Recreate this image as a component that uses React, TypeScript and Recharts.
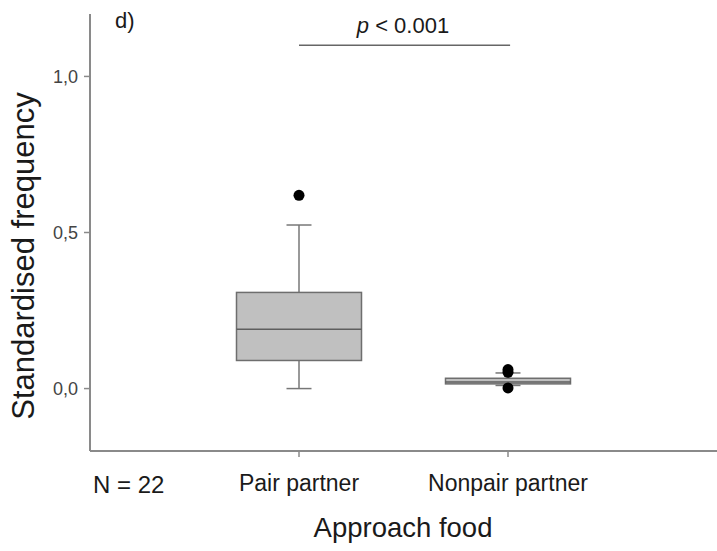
import React from "react";
import {
  ComposedChart,
  Bar,
  Scatter,
  XAxis,
  YAxis,
  ReferenceLine,
} from "recharts";

// box plot summary per group
const categories = ["Pair partner", "Nonpair partner"];
const positions = [1, 2];
const lowerWhisker = [0.0, 0.01];
const lowerQuartile = [0.09, 0.015];
const medians = [0.19, 0.021];
const upperQuartile = [0.308, 0.033];
const upperWhisker = [0.524, 0.05];

// outliers (group position, value)
const outlierGroups = [1, 2, 2, 2];
const outlierValues = [0.619, 0.061, 0.052, 0.002];

const yTicks = [0, 0.5, 1.0];
const sigStart = 1;
const sigEnd = 2.01;
const sigLevel = 1.1;

const font = "'Liberation Sans', Arial, Helvetica, sans-serif";
const axisGrey = "#8a8a8a";
const boxStroke = "#6e6e6e";
const whiskerStroke = "#777777";

const boxData = positions.map((x, i) => ({
  x,
  name: categories[i],
  whisker: [lowerWhisker[i], upperWhisker[i]],
  box: [lowerQuartile[i], upperQuartile[i]],
  q1: lowerQuartile[i],
  q3: upperQuartile[i],
  median: medians[i],
}));

const outlierData = outlierGroups.map((x, i) => ({ x, value: outlierValues[i] }));

const formatY = (v: number) => v.toFixed(1).replace(".", ",");
const formatX = (v: number) => categories[positions.indexOf(v)] ?? "";

const WhiskerShape = (props: any) => {
  const { x, y, width, height } = props;
  const cx = x + width / 2;
  return (
    <g stroke={whiskerStroke} strokeWidth={1.5}>
      <line x1={cx} y1={y} x2={cx} y2={y + height} />
      <line x1={x} y1={y} x2={x + width} y2={y} />
      <line x1={x} y1={y + height} x2={x + width} y2={y + height} />
    </g>
  );
};

const BoxShape = (props: any) => {
  const { x, y, width, height, payload } = props;
  const span = payload.q3 - payload.q1;
  const my = y + (height * (payload.q3 - payload.median)) / span;
  return (
    <g>
      <rect
        x={x}
        y={y}
        width={width}
        height={height}
        fill="#c0c0c0"
        stroke={boxStroke}
        strokeWidth={1.5}
      />
      <line x1={x} y1={my} x2={x + width} y2={my} stroke="#5e5e5e" strokeWidth={1.5} />
    </g>
  );
};

const Dot = (props: any) => <circle cx={props.cx} cy={props.cy} r={5.5} fill="#000" />;

export default function App() {
  return (
    <div style={{ position: "absolute", left: 0, top: 0, width: 717, height: 551, background: "#fff" }}>
      <ComposedChart
        width={717}
        height={551}
        data={boxData}
        margin={{ top: 14, right: 0, bottom: 0, left: 0 }}
        style={{ fontFamily: font }}
      >
        <XAxis
          xAxisId="main"
          dataKey="x"
          type="number"
          domain={[0, 3]}
          ticks={positions}
          tickFormatter={formatX}
          height={100}
          tick={{ fontSize: 23, fill: "#1a1a1a", fontFamily: font }}
          tickSize={6}
          tickMargin={18}
          axisLine={{ stroke: axisGrey, strokeWidth: 2 }}
          tickLine={{ stroke: axisGrey, strokeWidth: 1.5 }}
          allowDataOverflow
        />
        <XAxis
          xAxisId="whisker"
          dataKey="x"
          type="number"
          domain={[0, 3]}
          ticks={positions}
          hide
          allowDataOverflow
        />
        <YAxis
          type="number"
          domain={[-0.2, 1.2]}
          ticks={yTicks}
          tickFormatter={formatY}
          width={90}
          tick={{ fontSize: 18, fill: "#444", fontFamily: font }}
          tickSize={6}
          tickMargin={6}
          axisLine={{ stroke: axisGrey, strokeWidth: 2 }}
          tickLine={{ stroke: axisGrey, strokeWidth: 1.5 }}
          allowDataOverflow
        />
        <Bar
          xAxisId="whisker"
          dataKey="whisker"
          barSize={25}
          shape={<WhiskerShape />}
          isAnimationActive={false}
        />
        <Bar
          xAxisId="main"
          dataKey="box"
          barSize={125}
          shape={<BoxShape />}
          isAnimationActive={false}
        />
        <Scatter
          xAxisId="main"
          data={outlierData}
          dataKey="value"
          shape={<Dot />}
          isAnimationActive={false}
        />
        <ReferenceLine
          xAxisId="main"
          segment={[
            { x: sigStart, y: sigLevel },
            { x: sigEnd, y: sigLevel },
          ]}
          stroke="#666"
          strokeWidth={1.5}
          ifOverflow="visible"
        />
        <text x={115} y={28} fontSize={22} fill="#1a1a1a" fontFamily={font}>
          d)
        </text>
        <text x={403} y={33} fontSize={22} fill="#1a1a1a" fontFamily={font} textAnchor="middle">
          <tspan fontStyle="italic">p</tspan> &lt; 0.001
        </text>
        <text x={93} y={493} fontSize={24} fill="#1a1a1a" fontFamily={font}>
          N = 22
        </text>
        <text x={403} y={537} fontSize={27.5} fill="#1a1a1a" fontFamily={font} textAnchor="middle">
          Approach food
        </text>
        <text
          x={34}
          y={256}
          fontSize={31}
          fill="#1a1a1a"
          fontFamily={font}
          textAnchor="middle"
          transform="rotate(-90 34 256)"
        >
          Standardised frequency
        </text>
      </ComposedChart>
    </div>
  );
}
